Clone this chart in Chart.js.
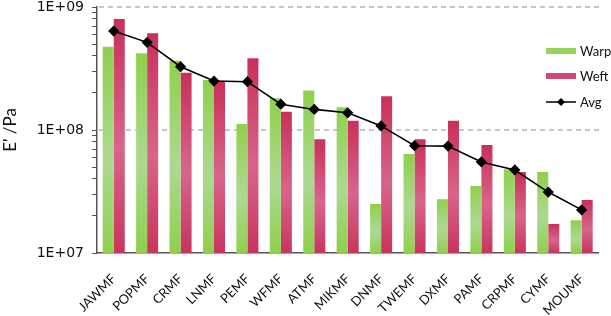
<!DOCTYPE html>
<html>
<head>
<meta charset="utf-8">
<script src="https://cdn.jsdelivr.net/npm/chart.js@4/dist/chart.umd.min.js"></script>
<style>
  html, body { margin: 0; padding: 0; background: #fff; }
  #wrap { position: relative; width: 611px; height: 316px; }
  #legend { position: absolute; left: 546px; top: 38px; font-family: "Lato", "Open Sans", sans-serif; font-size: 13px; color: #111; }
  .li { display: flex; align-items: center; height: 25.5px; }
  .sw { width: 30px; height: 6px; margin-right: 4px; }
</style>
</head>
<body>
<div id="wrap">
  <canvas id="c" width="611" height="316"></canvas>
  <div id="legend">
    <div class="li"><div class="sw" style="background:#97d35d"></div><span>Warp</span></div>
    <div class="li"><div class="sw" style="background:#cf4a72"></div><span>Weft</span></div>
    <div class="li"><svg width="30" height="10" style="margin-right:4px"><line x1="0" y1="5" x2="30" y2="5" stroke="#000" stroke-width="1.5"/><polygon points="15,1 19,5 15,9 11,5" fill="#000"/></svg><span>Avg</span></div>
  </div>
</div>
<script>
const categories = ["JAWMF","POPMF","CRMF","LNMF","PEMF","WFMF","ATMF","MIKMF","DNMF","TWEMF","DXMF","PAMF","CRPMF","CYMF","MOUMF"];
const warp = [4.75e8, 4.2e8, 3.66e8, 2.55e8, 1.12e8, 1.81e8, 2.09e8, 1.53e8, 2.5e7, 6.38e7, 2.73e7, 3.5e7, 4.79e7, 4.56e7, 1.85e7];
const weft = [7.98e8, 6.11e8, 2.92e8, 2.52e8, 3.83e8, 1.41e8, 8.4e7, 1.19e8, 1.88e8, 8.4e7, 1.19e8, 7.55e7, 4.56e7, 1.72e7, 2.7e7];
const avg  = [6.38e8, 5.16e8, 3.27e8, 2.5e8, 2.47e8, 1.62e8, 1.47e8, 1.38e8, 1.08e8, 7.45e7, 7.4e7, 5.5e7, 4.73e7, 3.13e7, 2.24e7];
const yTickValues = [1e7, 1e8, 1e9];
const yTickLabels = ["1E+07", "1E+08", "1E+09"];
const guideValues = [1e8, 1e9];

function barGradient(stops) {
  return (ctx) => {
    const chart = ctx.chart;
    const area = chart.chartArea;
    if (!area || ctx.raw == null) return stops[0];
    const y = chart.scales.y.getPixelForValue(ctx.raw);
    const g = chart.ctx.createLinearGradient(0, y, 0, area.bottom);
    g.addColorStop(0, stops[0]);
    g.addColorStop(0.55, stops[1]);
    g.addColorStop(1, stops[2]);
    return g;
  };
}

const minorTicks = [];
for (let e = 7; e <= 9; e++) {
  for (let m = 1; m <= 9; m++) {
    const v = m * Math.pow(10, e);
    if (v <= 1e9) minorTicks.push(v);
  }
}

// dashed horizontal guide lines at the labelled decades (drawn behind the bars)
const guideLines = {
  id: 'guideLines',
  beforeDatasetsDraw(chart) {
    const { ctx, chartArea, scales } = chart;
    ctx.save();
    ctx.strokeStyle = '#b4b4b4';
    ctx.lineWidth = 1.5;
    ctx.setLineDash([5, 4]);
    guideValues.forEach(v => {
      const y = scales.y.getPixelForValue(v);
      ctx.beginPath();
      ctx.moveTo(chartArea.left + 2, y);
      ctx.lineTo(chartArea.right + 4, y);
      ctx.stroke();
    });
    ctx.restore();
  }
};

const chart = new Chart(document.getElementById('c'), {
  type: 'bar',
  data: {
    labels: categories,
    datasets: [
      { type: 'line', label: 'Avg', data: avg, borderColor: '#000', backgroundColor: '#000', borderWidth: 1.6,
        pointStyle: 'rectRot', pointRadius: 4.5, pointBackgroundColor: '#000', pointBorderColor: '#000', tension: 0, order: 0 },
      { label: 'Warp', data: warp, backgroundColor: barGradient(['#8fd04c', '#acd992', '#8fd04c']), borderWidth: 0, order: 1 },
      { label: 'Weft', data: weft, backgroundColor: barGradient(['#c8305a', '#d8658a', '#c8345e']), borderWidth: 0, order: 1 }
    ]
  },
  plugins: [guideLines],
  options: {
    responsive: false,
    animation: false,
    devicePixelRatio: 1,
    layout: { padding: { top: 7, right: 9, left: 0, bottom: 0 } },
    datasets: { bar: { categoryPercentage: 0.66, barPercentage: 1.0 } },
    plugins: { legend: { display: false }, tooltip: { enabled: false } },
    scales: {
      x: {
        grid: { display: false, drawTicks: false },
        border: { display: true, color: '#555', width: 1.5 },
        ticks: { minRotation: 45, maxRotation: 45, padding: 18, color: '#111', font: { family: 'Lato', size: 13 } },
        afterFit: (s) => { s.height = 63; }
      },
      y: {
        type: 'logarithmic',
        min: 1e7, max: 1e9,
        afterBuildTicks: (s) => { s.ticks = minorTicks.map(v => ({ value: v })); },
        ticks: {
          autoSkip: false,
          color: '#111',
          font: { family: 'DejaVu Sans', size: 14 },
          padding: 8,
          callback: (v) => { const i = yTickValues.indexOf(v); return i >= 0 ? yTickLabels[i] : ''; }
        },
        grid: {
          drawOnChartArea: false,
          drawTicks: true,
          tickLength: 5,
          tickWidth: 1,
          tickColor: '#555'
        },
        border: { display: true, color: '#555', width: 1.5 },
        title: { display: true, text: "E' /Pa", color: '#111', font: { family: 'Lato', size: 17 }, padding: { top: 0, bottom: 8 } },
        afterFit: (s) => { s.width = 97; s.paddingTop = 0; s.paddingBottom = 0; }
      }
    }
  }
});
</script>
</body>
</html>
